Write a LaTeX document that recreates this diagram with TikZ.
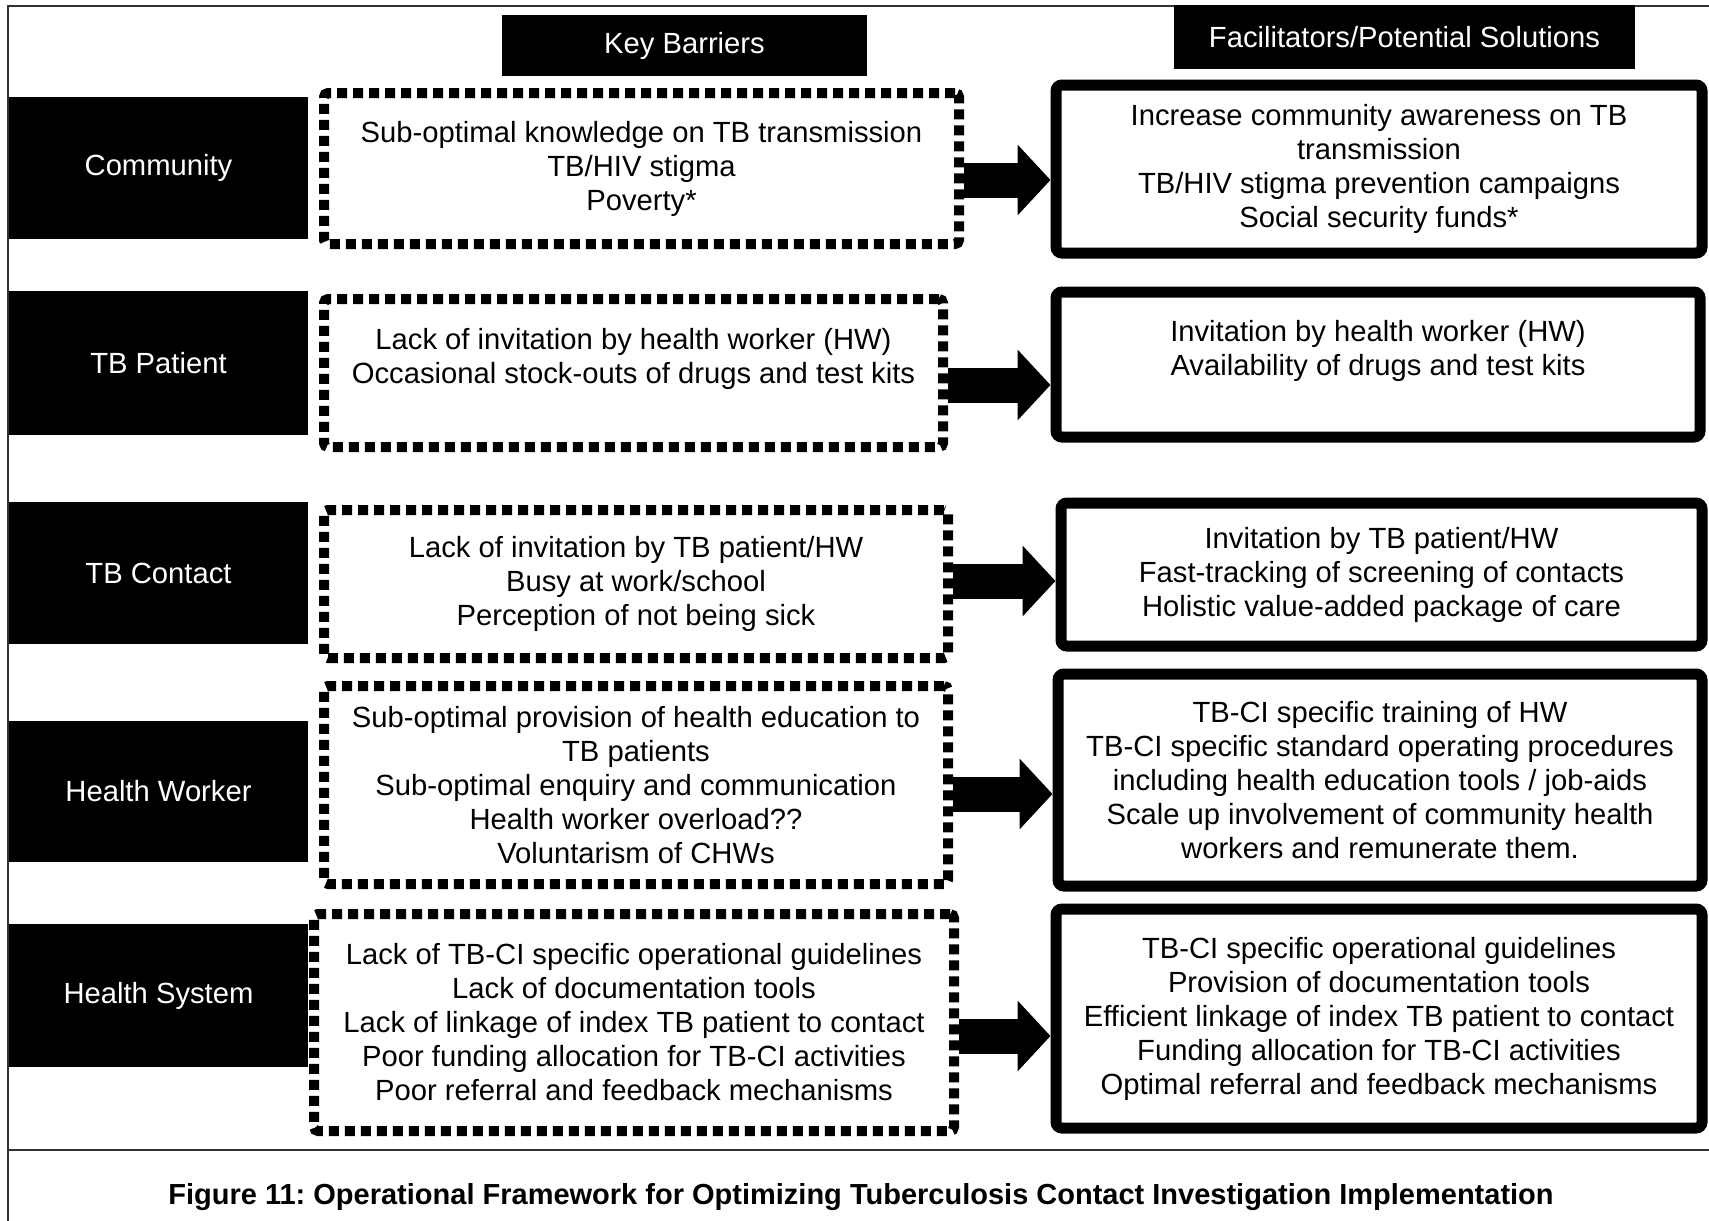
\documentclass[tikz,border=0pt]{standalone}
\usepackage{fontspec}
\setmainfont{Liberation Sans}
\usetikzlibrary{arrows.meta}
\frenchspacing

\begin{document}
\begin{tikzpicture}
[catbox/.style={fill=black,text=white,inner sep=0pt,minimum width=149.5pt},%
  barbox/.style={draw,line width=5pt,dash pattern=on 5pt off 3pt,rounded corners=2pt,align=center,inner sep=0pt},
  solbox/.style={draw,line width=5.5pt,rounded corners=3pt,align=center,inner sep=0pt},
  headbox/.style={fill=black,text=white,inner sep=0pt},
  blockarrow/.style={line width=17.5pt,-{Triangle[length=16.5pt,width=34.5pt]}},
  x=0.5pt,y=-0.5pt]
\fontsize{14.6}{17}\selectfont
\useasboundingbox (0,0) rectangle (1709,1221);
%% frame and caption
\draw[line width=0.8pt,black!80] (8,6) rectangle (1760,1260);
\draw[line width=1pt,black!80] (8,1150) -- (1760,1150);
\node (caption) at (861,1197) {\fontsize{14.5}{17}\selectfont\bfseries Figure 11: Operational Framework for Optimizing Tuberculosis Contact Investigation Implementation};
%% column heads
\node (hdbar) at (684.5,45.5) [headbox,minimum width=182.5pt,minimum height=30.5pt] {Key Barriers};
\node (hdsol) at (1404.5,37) [headbox,minimum width=230.5pt,minimum height=32pt] {Facilitators/Potential Solutions};
%% levels
\foreach \name/\y/\h/\txt in {
  cat1/168/142/{Community},
  cat2/363/144/{TB Patient},
  cat3/573/142/{TB Contact},
  cat4/791.5/141/{Health Worker},
  cat5/995.5/143/{Health System}}
{
  \node (\name) at (158.5,\y) [catbox,minimum height=0.5pt*\h] {\txt};
}
%% key barriers
\foreach \name/\x/\y/\w/\h/\txt in {
  bar1/641.5/168.5/635/151/{Sub-optimal knowledge on TB transmission\\TB/HIV stigma\\Poverty*},
  bar2/633.5/373/619/148/{Lack of invitation by health worker (HW)\\Occasional stock-outs of drugs and test kits\\ \mbox{}},
  bar3/636/584/624/148/{Lack of invitation by TB patient/HW\\Busy at work/school\\Perception of not being sick},
  bar4/636/785/624/198/{Sub-optimal provision of health education to\\TB patients\\Sub-optimal enquiry and communication\\Health worker overload??\\Voluntarism of CHWs},
  bar5/634/1022.5/640/217/{Lack of TB-CI specific operational guidelines\\Lack of documentation tools\\Lack of linkage of index TB patient to contact\\Poor funding allocation for TB-CI activities\\Poor referral and feedback mechanisms}}
{
  \node (\name) at (\x,\y) [barbox,minimum width=0.5pt*\w,minimum height=0.5pt*\h] {\txt};
}
%% facilitators / solutions
\foreach \name/\x/\y/\w/\h/\txt in {
  sol1/1379/169/646/168/{Increase community awareness on TB\\transmission\\TB/HIV stigma prevention campaigns\\Social security funds*},
  sol2/1378/364.5/644/145/{Invitation by health worker (HW)\\Availability of drugs and test kits\\ \mbox{}},
  sol3/1381.5/574.5/641/143/{Invitation by TB patient/HW\\Fast-tracking of screening of contacts\\Holistic value-added package of care},
  sol4/1380/780/644/212/{TB-CI specific training of HW\\TB-CI specific standard operating procedures\\including health education tools / job-aids\\Scale up involvement of community health\\workers and remunerate them.},
  sol5/1379/1018.5/646/219/{TB-CI specific operational guidelines\\Provision of documentation tools\\Efficient linkage of index TB patient to contact\\Funding allocation for TB-CI activities\\Optimal referral and feedback mechanisms}}
{
  \node (\name) at (\x,\y) [solbox,minimum width=0.5pt*\w,minimum height=0.5pt*\h] {\txt};
}
%% arrows
\foreach \i/\y in {1/180, 2/385, 3/581, 4/794, 5/1036}
{
  \draw[blockarrow] (bar\i.east |- 0,\y) -- (sol\i.west |- 0,\y);
}
\end{tikzpicture}
\end{document}
